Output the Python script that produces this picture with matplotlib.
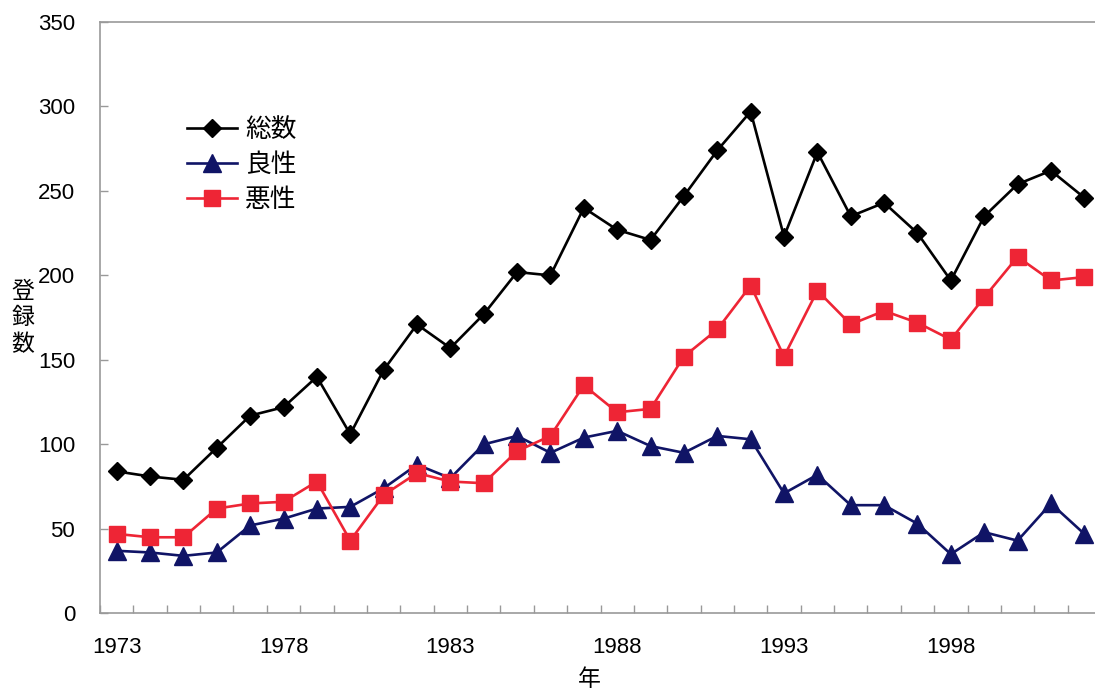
import matplotlib
matplotlib.use("Agg")
import matplotlib.pyplot as plt
from matplotlib.ticker import FixedLocator, NullFormatter

plt.rcParams['font.family'] = ['Liberation Sans', 'Noto Sans CJK JP', 'DejaVu Sans']

years = list(range(1973, 2003))
total = [84, 81, 79, 98, 117, 122, 140, 106, 144, 171, 157, 177, 202, 200, 240,
         227, 221, 247, 274, 297, 223, 273, 235, 243, 225, 197, 235, 254, 262, 246]
benign = [37, 36, 34, 36, 52, 56, 62, 63, 74, 88, 80, 100, 105, 95, 104,
          108, 99, 95, 105, 103, 71, 82, 64, 64, 53, 35, 48, 43, 65, 47]
malignant = [47, 45, 45, 62, 65, 66, 78, 43, 70, 83, 78, 77, 96, 105, 135,
             119, 121, 152, 168, 194, 152, 191, 171, 179, 172, 162, 187, 211, 197, 199]
labels = ['総数', '良性', '悪性']
yticks = [0, 50, 100, 150, 200, 250, 300, 350]
xtick_years = [1973, 1978, 1983, 1988, 1993, 1998]

W, H = 1095, 692
fig = plt.figure(figsize=(W / 100, H / 100), dpi=100)
left, right, bottom, top = 100, 1101, 613.3, 22
ax = fig.add_axes([left / W, (H - bottom) / H, (right - left) / W, (bottom - top) / H])

x = list(range(len(years)))
ax.plot(x, total, color='black', lw=1.9, marker='D', markersize=9.5, label=labels[0], zorder=3)
ax.plot(x, benign, color='#101466', lw=1.9, marker='^', markersize=12.5, label=labels[1], zorder=4)
ax.plot(x, malignant, color='#ee2535', lw=1.9, marker='s', markersize=12, label=labels[2], zorder=5)

ax.set_xlim(-0.5, len(years) - 0.5)
ax.set_ylim(0, 350)

gray = '#999999'
for s in ['left', 'bottom', 'top']:
    ax.spines[s].set_color(gray)
    ax.spines[s].set_linewidth(1.2)
ax.spines['right'].set_visible(False)

ax.xaxis.set_major_locator(FixedLocator([i - 0.5 for i in range(len(years) + 1)]))
ax.xaxis.set_major_formatter(NullFormatter())
ax.xaxis.set_minor_locator(FixedLocator([years.index(y) for y in xtick_years]))
ax.set_xticklabels([str(y) for y in xtick_years], minor=True)
ax.tick_params(axis='x', which='major', direction='in', length=5.5, color=gray, width=1)
ax.tick_params(axis='x', which='minor', length=0, pad=17, labelsize=16)

ax.set_yticks(yticks)
ax.set_yticklabels([str(v) for v in yticks])
ax.tick_params(axis='y', direction='in', length=6, color=gray, width=1, pad=18, labelsize=16)

fig.text(23 / W, (H - 318) / H, '登\n録\n数', ha='center', va='center',
         fontsize=16.5, linespacing=1.2, family=['Noto Sans CJK JP'])
fig.text(589 / W, (H - 679) / H, '年', ha='center', va='center', fontsize=16.5,
         family=['Noto Sans CJK JP'])

leg = ax.legend(loc='center left', bbox_to_anchor=((187 - left) / (right - left), (bottom - 165) / (bottom - top)),
                frameon=False, handlelength=1.95, handletextpad=0.3,
                labelspacing=0.35, borderpad=0, borderaxespad=0,
                prop={'family': ['Noto Sans CJK JP'], 'size': 18.5})

fig.savefig('out.png', dpi=100)
